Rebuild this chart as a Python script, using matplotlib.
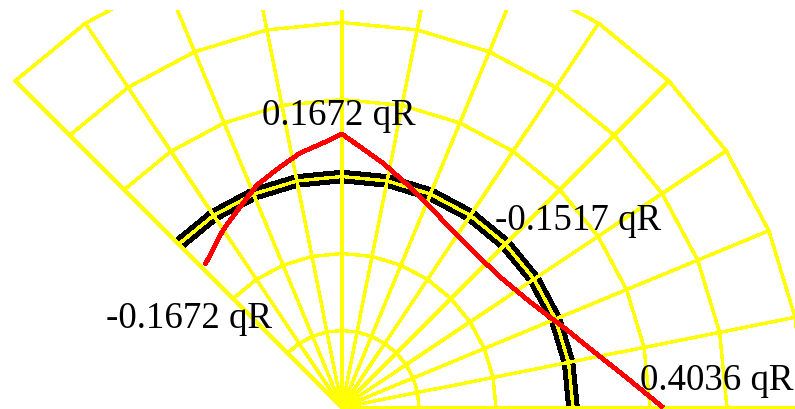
import numpy as np
import matplotlib
matplotlib.use("Agg")
import matplotlib.pyplot as plt

# ---- data ----
node_angles_deg = [0, 11.25, 22.5, 33.75, 45, 56.25, 67.5, 78.75, 90, 101.25, 112.5, 123.75, 135]
ring_radii = [1, 2, 3, 4, 5, 6]
arch_radius = 3.0
# red moment diagram (grid units), from the 135 deg end to the 0 deg end
moment_x = [-1.78, -1.545, -1.325, -1.104, -0.805, -0.545, -0.247, 0.0,
            0.532, 0.883, 1.143, 1.403, 1.727, 2.052, 2.442, 2.857, 3.260, 3.701, 4.169]
moment_y = [1.851, 2.305, 2.604, 2.890, 3.123, 3.305, 3.435, 3.552,
            3.175, 2.864, 2.604, 2.331, 2.006, 1.695, 1.370, 1.058, 0.734, 0.383, 0.0]
label_texts = ["0.1672 qR", "-0.1672 qR", "-0.1517 qR", "0.4036 qR"]
label_pos = [(-1.04, 3.68), (-3.07, 1.045), (1.99, 2.32), (3.87, 0.24)]

# ---- figure ----
W, H, DPI = 795, 410, 100
fig = plt.figure(figsize=(W / DPI, H / DPI), dpi=DPI)
ax = fig.add_axes([0, 0, 1, (H - 11) / H])
s = 77.0
cx, cy = 342.0, 408.5
ax.set_xlim((0 - cx) / s, (W - cx) / s)
ax.set_ylim((cy - H) / s, (cy - 11) / s)
ax.set_axis_off()

th = np.deg2rad(np.array(node_angles_deg))

# black arch
ax.plot(arch_radius * np.cos(th), arch_radius * np.sin(th), color="black",
        lw=9.0, solid_capstyle="butt", solid_joinstyle="miter", antialiased=False, zorder=1)

# yellow polygonal polar grid
grid_lw = 1.7
for r in ring_radii:
    ax.plot(r * np.cos(th), r * np.sin(th), color="#FFFF00", lw=grid_lw,
            antialiased=False, zorder=2)
rmax = max(ring_radii)
for t in th:
    ax.plot([0, rmax * np.cos(t)], [0, rmax * np.sin(t)], color="#FFFF00",
            lw=grid_lw, antialiased=False, zorder=2)

# red moment diagram
ax.plot(moment_x, moment_y, color="#FF0000", lw=2.6,
        antialiased=False, zorder=3, solid_capstyle="butt")

for txt, (x, y) in zip(label_texts, label_pos):
    ax.text(x, y, txt, family="Liberation Serif", fontsize=26.6, color="black",
            ha="left", va="baseline", zorder=4)

fig.savefig("out.png", dpi=DPI, facecolor="white")
